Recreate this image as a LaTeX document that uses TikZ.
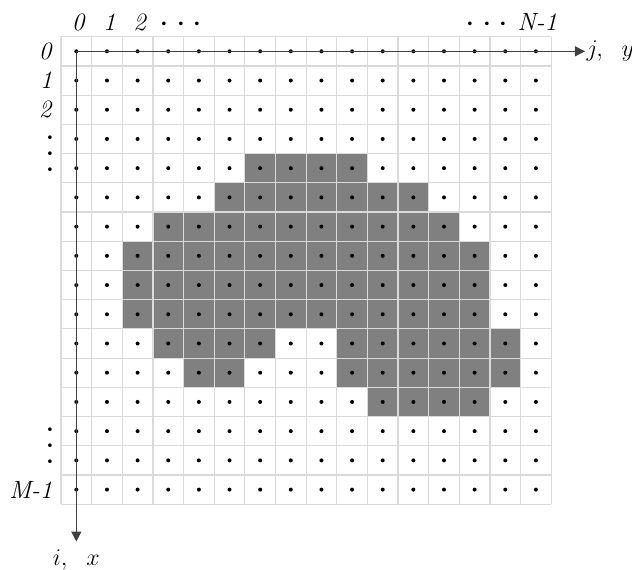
\documentclass[tikz,border=0pt]{standalone}
\usetikzlibrary{arrows.meta}
\definecolor{cellgray}{HTML}{808080}
\definecolor{linegray}{HTML}{DADADA}
\definecolor{axisgray}{HTML}{404040}
\newcommand{\bigcdot}{{\fontsize{16}{16}\selectfont$\cdot$}}
\newcommand{\wdots}{\bigcdot\hspace{3.4pt}\bigcdot\hspace{3.4pt}\bigcdot}
\begin{document}
\begin{tikzpicture}[x=15.32pt,y=-14.61pt,
  gridline/.style={draw=linegray,line width=0.6pt},
  cellfill/.style={fill=cellgray},
  axis/.style={draw=axisgray,line width=0.6pt,-{Triangle[length=5pt,width=5pt]}},
  lab/.style={font=\fontsize{12.5}{15}\selectfont,inner sep=1pt}]
% 16 x 16 cells, one cell = 1 unit (30.6px x 29.2px)
\useasboundingbox (-1.991,-1.256) rectangle (18.636,18.251);
% shaded cells: row/first col/last col
\foreach \r/\a/\b in {4/6/9,5/5/11,6/3/12,7/2/13,8/2/13,9/2/13,10/3/6,10/9/14,11/4/5,11/9/14,12/10/13}
  \fill[cellfill] (\a,\r) rectangle (\b+1,\r+1);
\foreach \k in {0,...,16} {
  \draw[gridline] (\k,0) -- (\k,16);
  \draw[gridline] (0,\k) -- (16,\k);
}
% sample points
\foreach \c in {0,...,15}
  \foreach \r in {0,...,15}
    \fill (\c+0.5,\r+0.5) circle (1pt);
% axes
\coordinate (o) at (0.5,0.5);
\coordinate (jend) at (17.1,0.5);
\coordinate (iend) at (0.5,17.28);
\draw[axis] (o) -- (jend) node[lab,right,inner sep=0.5pt] (jlab) {$j,\;\ y$};
\draw[axis] (o) -- (iend) node[lab,below=3pt] (ilab) {$i,\;\ x$};
% column indices
\foreach \c in {0,1,2}
  \node[lab] (col\c) at (\c+0.58,-0.5) {\textit{\c}};
\node[lab] (coldots) at (3.92,-0.42) {\wdots};
\node[lab] (coldotsr) at (13.9,-0.42) {\wdots};
\node[lab] (colN) at (15.55,-0.5) {\textit{N-1}};
% row indices
\foreach \r in {0,1,2}
  \node[lab,anchor=east] (row\r) at (-0.2,\r+0.5) {\textit{\r}};
\node[lab,rotate=90] (rowdots) at (-0.33,4) {\wdots};
\node[lab,rotate=90] (rowdotsb) at (-0.33,14) {\wdots};
\node[lab,anchor=east] (rowM) at (-0.2,15.5) {\textit{M-1}};
\end{tikzpicture}
\end{document}
